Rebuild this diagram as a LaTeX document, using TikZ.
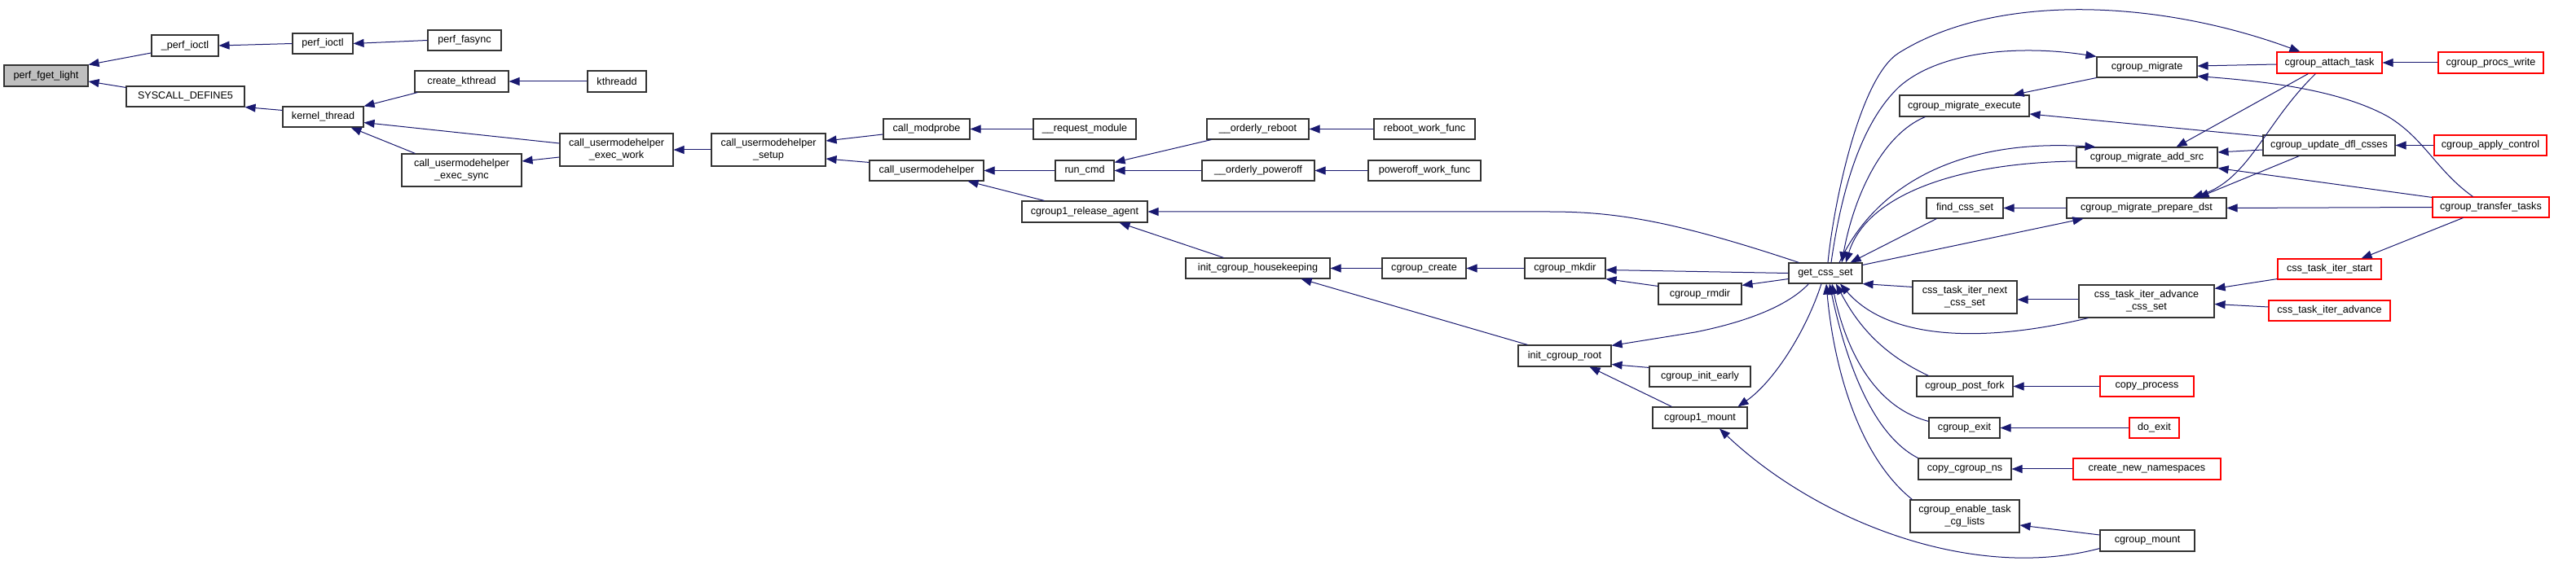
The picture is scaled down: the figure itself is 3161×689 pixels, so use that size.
\documentclass[tikz,border=0pt]{standalone}
\usepackage{fontspec}
\setmainfont{Liberation Sans}
\usetikzlibrary{arrows.meta}
\definecolor{edgeblue}{HTML}{191970}
\definecolor{nodegray}{HTML}{BFBFBF}
\definecolor{boxred}{HTML}{FF0000}
\tikzset{
 box/.style={draw=black!80, line width=0.55pt, fill=white, inner sep=0pt, align=center, font=\fontsize{6.3}{7.5}\selectfont, text=black},
 redbox/.style={draw=boxred},
 rootbox/.style={fill=nodegray},
 edge/.style={draw=edgeblue, line width=0.5pt, -{Triangle[length=6.5pt,width=5pt]}},
}
\newcommand\gnode[7][]{%
 \pgfmathsetmacro\gnCX{(#3+#5)/2}%
 \pgfmathsetmacro\gnCY{(#4+#6)/2}%
 \pgfmathsetmacro\gnW{(#5-#3)*0.5}%
 \pgfmathsetmacro\gnH{(#6-#4)*0.5}%
 \node[box,#1,minimum width=\gnW pt,minimum height=\gnH pt] (#2) at (\gnCX,\gnCY) {#7};}
\begin{document}
\begin{tikzpicture}[x=0.5pt,y=-0.5pt]
\useasboundingbox (0,0) rectangle (3161,689);
\fill[white] (0,0) rectangle (3161,689);
% nodes
\gnode[rootbox]{n0}{5}{80}{108}{106}{perf\_fget\_light}
\gnode{n1}{186}{43}{268}{69}{\_perf\_ioctl}
\gnode{n2}{359}{41}{433}{66}{perf\_ioctl}
\gnode{n3}{525}{37}{615}{62}{perf\_fasync}
\gnode{n4}{155}{106}{300}{131}{SYSCALL\_DEFINE5}
\gnode{n5}{347}{131}{446}{156}{kernel\_thread}
\gnode{n6}{509}{87}{624}{113}{create\_kthread}
\gnode{n7}{721}{87}{793}{113}{kthreadd}
\gnode{n8}{493}{189}{640}{229}{call\_usermodehelper\\\_exec\_sync}
\gnode{n9}{687}{164}{826}{204}{call\_usermodehelper\\\_exec\_work}
\gnode{n10}{873}{164}{1013}{204}{call\_usermodehelper\\\_setup}
\gnode{n11}{1084}{146}{1190}{171}{call\_modprobe}
\gnode{n12}{1268}{146}{1394}{171}{\_\_request\_module}
\gnode{n13}{1067}{197}{1207}{222}{call\_usermodehelper}
\gnode{n14}{1295}{197}{1367}{222}{run\_cmd}
\gnode{n15}{1254}{247}{1408}{273}{cgroup1\_release\_agent}
\gnode{n16}{1481}{146}{1606}{171}{\_\_orderly\_reboot}
\gnode{n17}{1475}{197}{1613}{222}{\_\_orderly\_poweroff}
\gnode{n18}{1686}{146}{1810}{171}{reboot\_work\_func}
\gnode{n19}{1679}{197}{1817}{222}{poweroff\_work\_func}
\gnode{n20}{1455}{317}{1632}{342}{init\_cgroup\_housekeeping}
\gnode{n21}{1696}{317}{1799}{342}{cgroup\_create}
\gnode{n22}{1871}{317}{1970}{342}{cgroup\_mkdir}
\gnode{n23}{2035}{348}{2137}{374}{cgroup\_rmdir}
\gnode{n24}{1863}{424}{1977}{450}{init\_cgroup\_root}
\gnode{n25}{2024}{450}{2148}{475}{cgroup\_init\_early}
\gnode{n26}{2028}{500}{2144}{526}{cgroup1\_mount}
\gnode{n27}{2195}{323}{2285}{348}{get\_css\_set}
\gnode{n28}{2331}{117}{2490}{143}{cgroup\_migrate\_execute}
\gnode{n29}{2364}{243}{2458}{268}{find\_css\_set}
\gnode{n30}{2573}{70}{2696}{95}{cgroup\_migrate}
\gnode{n31}{2548}{181}{2721}{206}{cgroup\_migrate\_add\_src}
\gnode{n32}{2536}{243}{2732}{268}{cgroup\_migrate\_prepare\_dst}
\gnode{n33}{2347}{345}{2475}{385}{css\_task\_iter\_next\\\_css\_set}
\gnode{n34}{2551}{350}{2717}{390}{css\_task\_iter\_advance\\\_css\_set}
\gnode{n35}{2352}{462}{2470}{487}{cgroup\_post\_fork}
\gnode{n36}{2367}{513}{2454}{538}{cgroup\_exit}
\gnode{n37}{2354}{563}{2468}{589}{copy\_cgroup\_ns}
\gnode{n38}{2344}{614}{2478}{654}{cgroup\_enable\_task\\\_cg\_lists}
\gnode{n39}{2577}{651}{2693}{677}{cgroup\_mount}
\gnode[redbox]{n40}{2577}{462}{2692}{487}{copy\_process}
\gnode[redbox]{n41}{2613}{513}{2674}{538}{do\_exit}
\gnode[redbox]{n42}{2544}{563}{2725}{589}{create\_new\_namespaces}
\gnode[redbox]{n43}{2794}{64}{2923}{90}{cgroup\_attach\_task}
\gnode[redbox]{n44}{2992}{64}{3121}{90}{cgroup\_procs\_write}
\gnode{n45}{2777}{166}{2939}{191}{cgroup\_update\_dfl\_csses}
\gnode[redbox]{n46}{2987}{166}{3125}{191}{cgroup\_apply\_control}
\gnode[redbox]{n47}{2985}{242}{3128}{267}{cgroup\_transfer\_tasks}
\gnode[redbox]{n48}{2795}{318}{2922}{343}{css\_task\_iter\_start}
\gnode[redbox]{n49}{2784}{369}{2933}{394}{css\_task\_iter\_advance}
% edges
\draw[edge] ([shift={(0,9)}]n1.west) -- (n0.north east);
\draw[edge] ([shift={(0,2)}]n4.north west) -- ([shift={(0,7)}]n0.east);
\draw[edge] (n2.west) -- (n1.east);
\draw[edge] (n3.west) -- (n2.east);
\draw[edge] ([shift={(0,5)}]n5.north west) -- (n4.south east);
\draw[edge] ([shift={(4,0)}]n6.south west) -- (n5.north east);
\draw[edge] ([shift={(0,-8)}]n9.west) -- ([shift={(0,7)}]n5.east);
\draw[edge] ([shift={(17,0)}]n8.north west) -- ([shift={(-16,0)}]n5.south east);
\draw[edge] (n7.west) -- (n6.east);
\draw[edge] ([shift={(0,9)}]n9.west) -- ([shift={(0,-11)}]n8.east);
\draw[edge] (n10.west) -- (n9.east);
\draw[edge] ([shift={(0,6.5)}]n11.west) -- ([shift={(0,-11)}]n10.east);
\draw[edge] ([shift={(0,3)}]n13.north west) -- ([shift={(0,11)}]n10.east);
\draw[edge] (n12.west) -- (n11.east);
\draw[edge] (n14.west) -- (n13.east);
\draw[edge] ([shift={(28,0)}]n15.north west) -- ([shift={(-20,0)}]n13.south east);
\draw[edge] ([shift={(6,0)}]n16.south west) -- ([shift={(0,3)}]n14.north east);
\draw[edge] (n17.west) -- (n14.east);
\draw[edge] (n18.west) -- (n16.east);
\draw[edge] (n19.west) -- (n17.east);
\draw[edge] ([shift={(13,0)}]n27.north west) .. controls (2050,270) and (1980,260) .. (1900,260) -- (n15.east);
\draw[edge] ([shift={(47,0)}]n20.north west) -- ([shift={(-35,0)}]n15.south east);
\draw[edge] (n21.west) -- (n20.east);
\draw[edge] ([shift={(12,0)}]n24.north west) -- ([shift={(-36,0)}]n20.south east);
\draw[edge] (n22.west) -- (n21.east);
\draw[edge] (n27.west) -- ([shift={(0,2)}]n22.east);
\draw[edge] ([shift={(0,4)}]n23.north west) -- (n22.south east);
\draw[edge] ([shift={(0,-6)}]n27.south west) -- ([shift={(0,3)}]n23.north east);
\draw[edge] ([shift={(25,0)}]n27.south west) .. controls (2190,380) and (2130,398) .. (2080,408) -- ([shift={(0,1)}]n24.north east);
\draw[edge] ([shift={(0,2)}]n25.north west) -- ([shift={(0,-3)}]n24.south east);
\draw[edge] ([shift={(24,0)}]n26.north west) -- ([shift={(-27,0)}]n24.south east);
\draw[edge] ([shift={(-5,0)}]n27.south) .. controls (2215,410) and (2175,470) .. ([shift={(-12,0)}]n26.north east);
\draw[edge] ([shift={(0,-4)}]n39.south west) .. controls (2420,715) and (2230,640) .. ([shift={(24,0)}]n26.south);
\draw[edge] ([shift={(32,0)}]n28.south west) .. controls (2310,165) and (2275,240) .. ([shift={(20,0)}]n27.north);
\draw[edge] (n30.south west) -- ([shift={(-20,0)}]n28.north east);
\draw[edge] ([shift={(0,2)}]n45.north west) -- ([shift={(0,10)}]n28.east);
\draw[edge] ([shift={(3,0)}]n27.north) .. controls (2250,250) and (2282,95) .. (2330,65) .. controls (2450,-10) and (2650,0) .. ([shift={(29,0)}]n43.north west);
\draw[edge] ([shift={(7,0)}]n27.north) .. controls (2260,230) and (2285,150) .. (2330,107) .. controls (2380,62) and (2480,55) .. (n30.north west);
\draw[edge] ([shift={(17,0)}]n27.north) .. controls (2300,230) and (2400,170) .. ([shift={(24,0)}]n31.north west);
\draw[edge] ([shift={(0,4.5)}]n31.west) .. controls (2400,200) and (2290,240) .. ([shift={(25,0)}]n27.north);
\draw[edge] ([shift={(13,0)}]n29.south west) -- ([shift={(-15,0)}]n27.north east);
\draw[edge] (n32.west) -- (n29.east);
\draw[edge] ([shift={(0,3)}]n27.north east) -- ([shift={(21,0)}]n32.south west);
\draw[edge] ([shift={(0,2)}]n43.west) -- ([shift={(0,-1.5)}]n30.east);
\draw[edge] (n44.west) -- (n43.east);
\draw[edge] ([shift={(50,0)}]n47.north west) .. controls (2990,210) and (2975,170) .. (2930,143) .. controls (2870,110) and (2780,100) .. ([shift={(0,-2)}]n30.south east);
\draw[edge] ([shift={(39,0)}]n43.south west) -- ([shift={(-51,0)}]n31.north east);
\draw[edge] ([shift={(48,0)}]n43.south west) .. controls (2780,150) and (2760,220) .. ([shift={(-42,0)}]n32.north east);
\draw[edge] ([shift={(0,5.5)}]n45.west) -- ([shift={(0,-6.5)}]n31.east);
\draw[edge] ([shift={(45,0)}]n45.south west) -- ([shift={(-35,0)}]n32.north east);
\draw[edge] (n46.west) -- (n45.east);
\draw[edge] ([shift={(0,1)}]n47.north west) -- (n31.south east);
\draw[edge] (n47.west) -- (n32.east);
\draw[edge] ([shift={(38,0)}]n47.south west) -- ([shift={(-25,0)}]n48.north east);
\draw[edge] ([shift={(0,-1)}]n48.south west) -- ([shift={(0,5)}]n34.north east);
\draw[edge] ([shift={(0,-4.5)}]n49.west) -- ([shift={(0,3.5)}]n34.east);
\draw[edge] ([shift={(0,8)}]n33.north west) -- (n27.south east);
\draw[edge] ([shift={(0,-2)}]n34.west) -- ([shift={(0,3)}]n33.east);
\draw[edge] ([shift={(12,0)}]n34.south west) .. controls (2440,420) and (2320,420) .. ([shift={(18,0)}]n27.south);
\draw[edge] ([shift={(15,0)}]n35.north west) .. controls (2310,435) and (2280,400) .. ([shift={(13,0)}]n27.south);
\draw[edge] ([shift={(0,5)}]n36.north west) .. controls (2300,500) and (2265,430) .. ([shift={(8,0)}]n27.south);
\draw[edge] (n37.north west) .. controls (2290,530) and (2260,420) .. ([shift={(5,0)}]n27.south);
\draw[edge] ([shift={(3,0)}]n38.north west) .. controls (2280,560) and (2250,450) .. ([shift={(1,0)}]n27.south);
\draw[edge] (n40.west) -- (n35.east);
\draw[edge] (n41.west) -- (n36.east);
\draw[edge] (n42.west) -- (n37.east);
\draw[edge] ([shift={(0,-7)}]n39.west) -- ([shift={(0,11)}]n38.east);
\end{tikzpicture}
\end{document}
